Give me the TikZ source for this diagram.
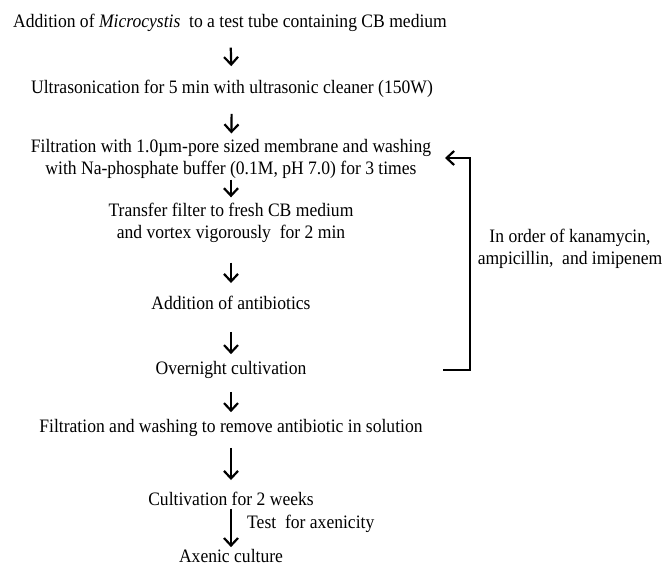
\documentclass[tikz,border=0pt]{standalone}
\usepackage{fontspec}
\setmainfont[FakeStretch=0.925]{Liberation Serif}
\usetikzlibrary{arrows.meta}
\begin{document}
\begin{tikzpicture}[x=1pt,y=-1pt,
  txt/.style={inner sep=0pt,font=\fontsize{19pt}{21.5pt}\selectfont,align=center},
  arr/.style={line width=2.2pt,-{Straight Barb[length=7.5pt,width=14pt,line width=2.2pt]}},
  brk/.style={line width=2.2pt,-{Straight Barb[length=7.5pt,width=14pt,line width=2.2pt]}}]
\useasboundingbox (0,0) rectangle (669,570);
\node[txt] (L1) at (230,22.7) {Addition of \textit{Microcystis}\ \ to a test tube containing CB medium};
\node[txt] (L2) at (232,89) {Ultrasonication for 5 min with ultrasonic cleaner (150W)};
\node[txt] (L3) at (231,159) {Filtration with 1.0µm-pore sized membrane and washing\\with Na-phosphate buffer (0.1M, pH 7.0) for 3 times};
\node[txt] (L4) at (231,223) {Transfer filter to fresh CB medium\\and vortex vigorously\ \ for 2 min};
\node[txt] (L5) at (231,303) {Addition of antibiotics};
\node[txt] (L6) at (231,370) {Overnight cultivation};
\node[txt] (L7) at (231,428) {Filtration and washing to remove antibiotic in solution};
\node[txt] (L8) at (231,499) {Cultivation for 2 weeks};
\node[txt] (L9) at (231,556) {Axenic culture};
\node[txt] (K) at (570,249) {In order of kanamycin,\\ampicillin,\ \ and imipenem};
\node[txt,anchor=west] (T) at (247,524) {Test\ \ for axenicity};
\coordinate (bb) at (443,370);
\coordinate (bt) at (445,158);
\draw[arr,shorten <=16pt,shorten >=14pt] (L1) -- (L2);
\draw[arr,shorten <=16pt,shorten >=6pt] (L2) -- (L3);
\draw[arr,shorten <=1pt,shorten >=6pt] (L3) -- (L4);
\draw[arr,shorten <=20pt,shorten >=13pt] (L4) -- (L5);
\draw[arr,shorten <=22pt,shorten >=7pt] (L5) -- (L6);
\draw[arr,shorten <=13pt,shorten >=7pt] (L6) -- (L7);
\draw[arr,shorten <=11pt,shorten >=12pt] (L7) -- (L8);
\draw[arr,shorten <=3pt,shorten >=2pt] (L8) -- (L9);
\draw[brk] (bb) -- ++(27,0) |- (bt);
\end{tikzpicture}
\end{document}
